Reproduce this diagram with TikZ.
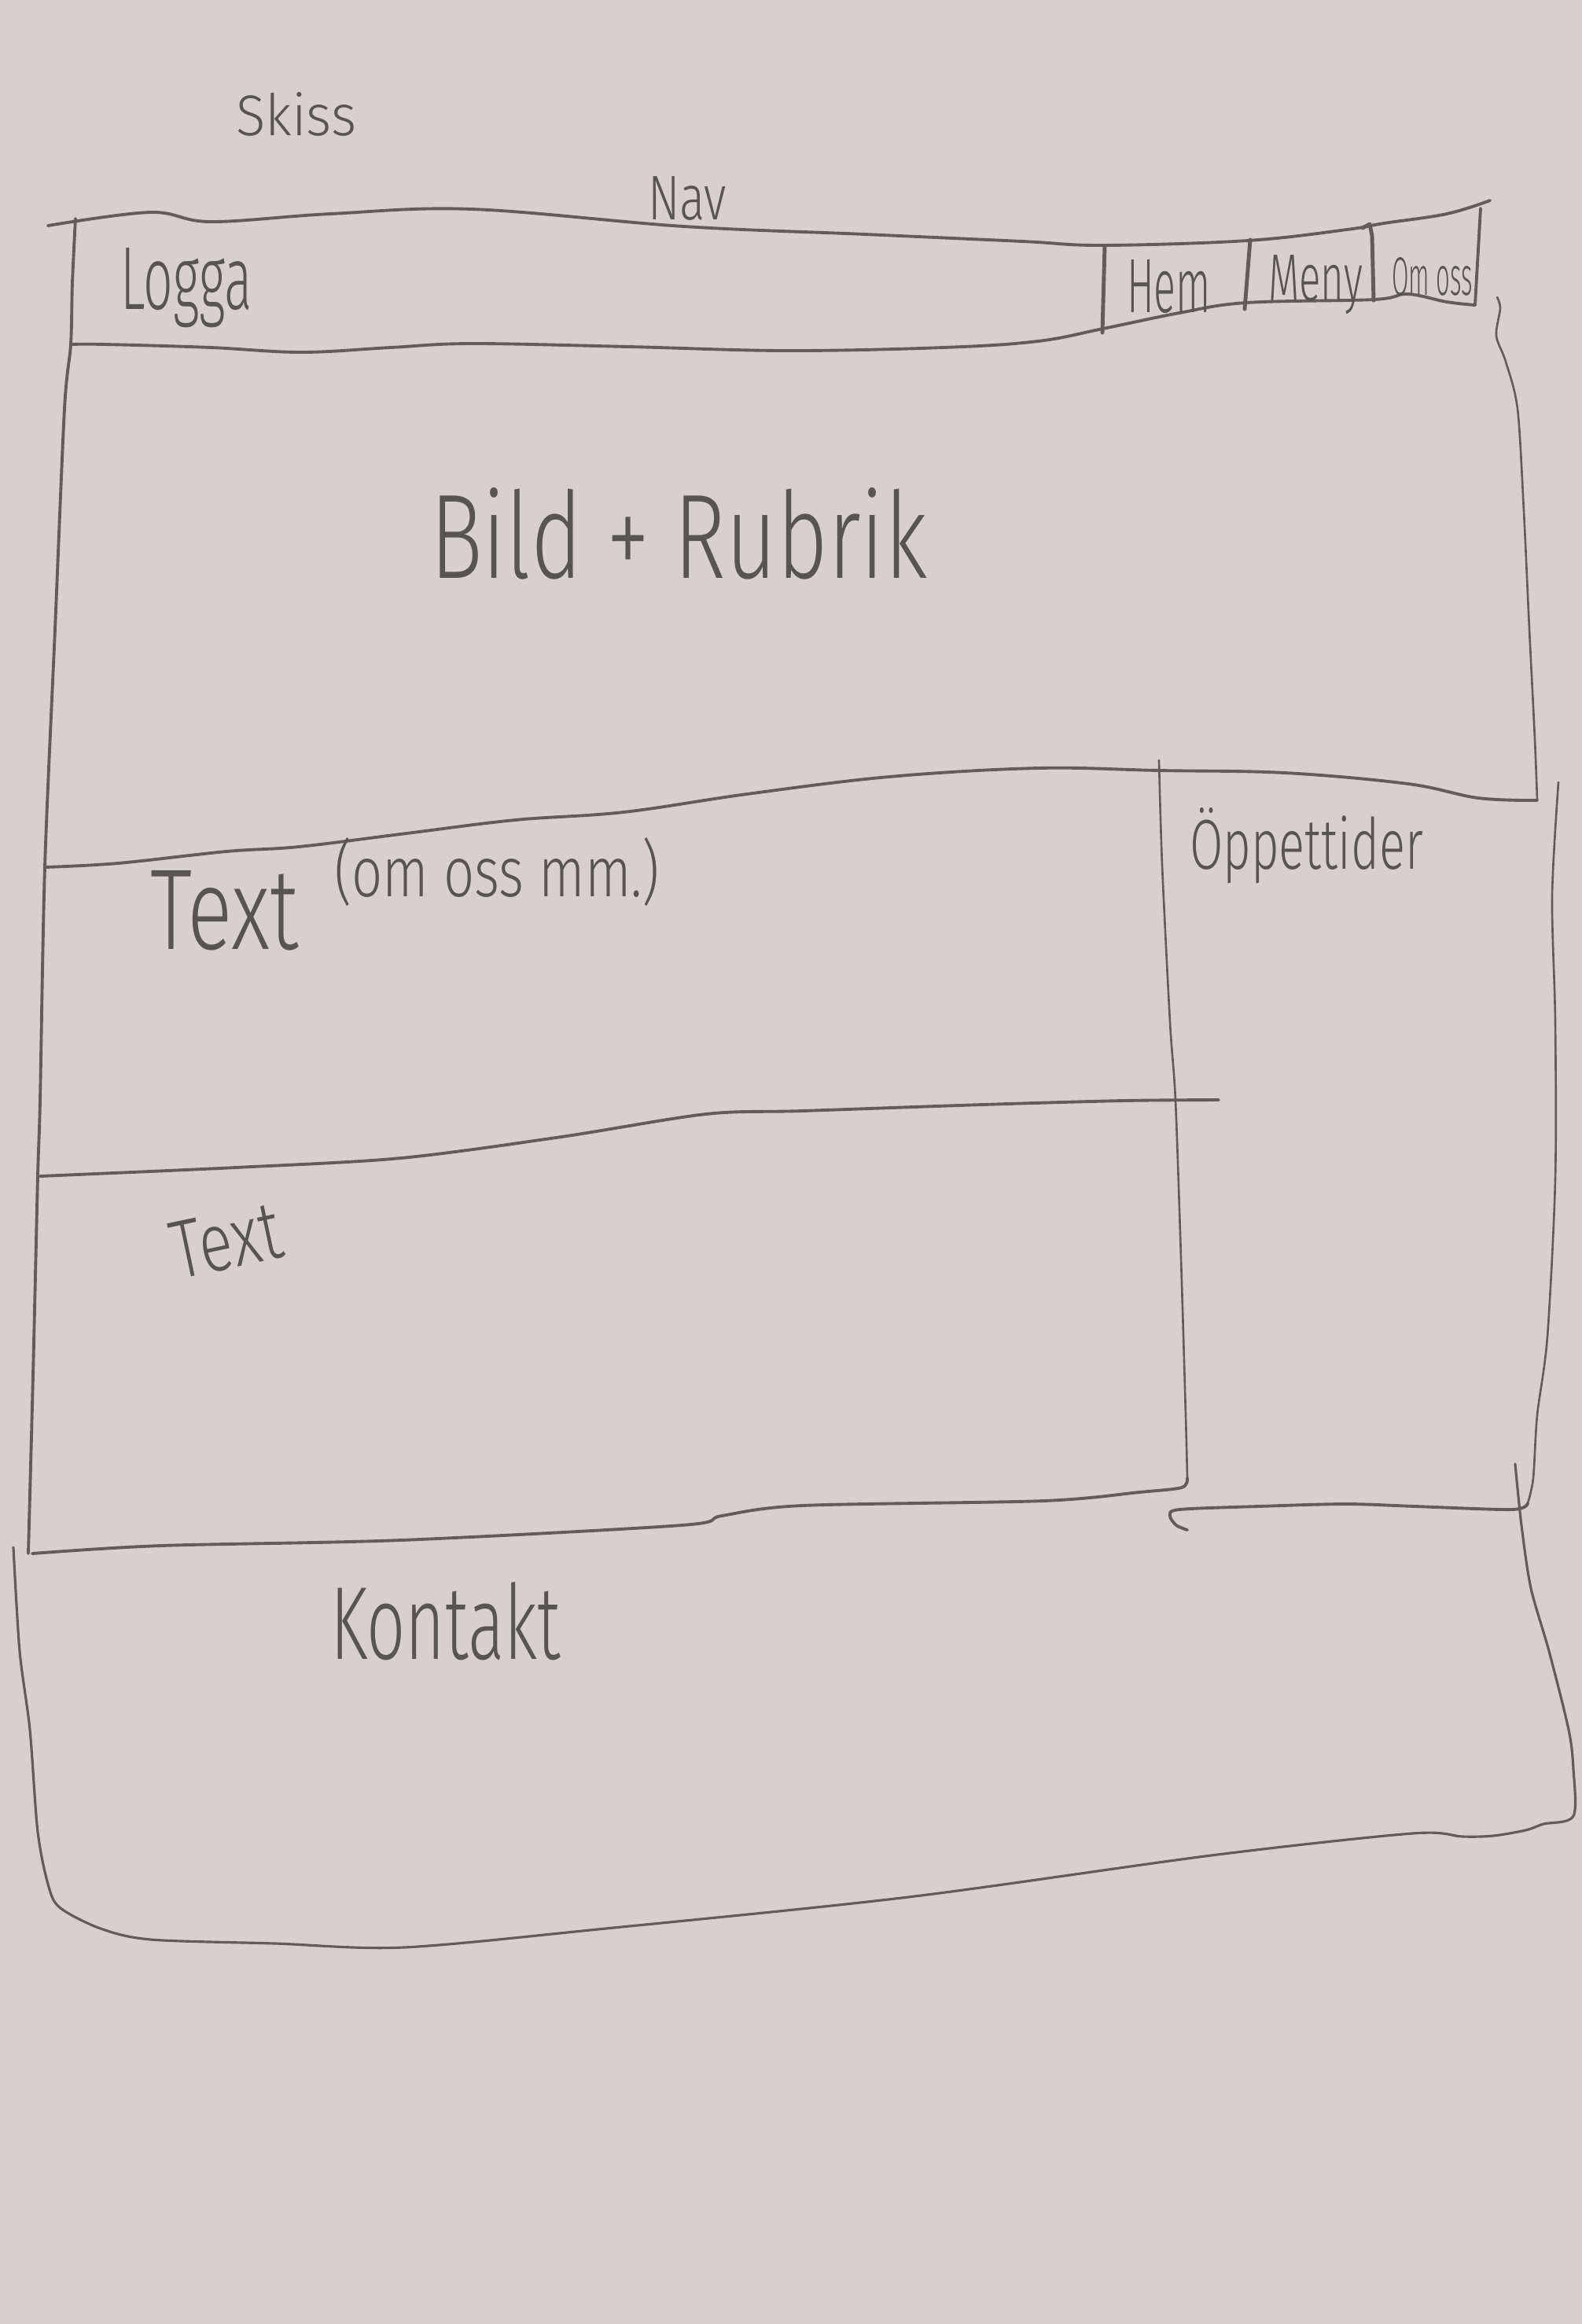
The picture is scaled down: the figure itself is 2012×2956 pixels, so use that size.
\documentclass[tikz,border=0pt]{standalone}
\usepackage{fontspec}
\setmainfont{Fira Sans Light}
\usepackage{graphicx}
\definecolor{paper}{RGB}{214,208,207}
\definecolor{pencil}{RGB}{98,93,91}
\definecolor{graphite}{RGB}{88,84,82}
% handwritten label squeezed into a given width and height
\newcommand\hand[3]{\resizebox{#1}{#2}{#3}}

\begin{document}
\begin{tikzpicture}[x=0.01cm,y=-0.01cm,
  pencil/.style={draw=pencil, line width=1.1pt, line cap=round, line join=round},
  faint/.style={pencil, line width=0.75pt},
  bar/.style={pencil, line width=1.4pt},
  word/.style={inner sep=0pt, outer sep=0pt, text=graphite, anchor=base west}]

\fill[paper] (0,0) rectangle (2012,2956);
\useasboundingbox (0,0) rectangle (2012,2956);

% ---- titles
\node[word] (skiss) at (300,172) {\hand{1.53cm}{0.55cm}{Skiss}};
\node[word] (nav)   at (824,279) {\hand{1.00cm}{0.55cm}{Nav}};

% ---- navigation bar
\draw[pencil] plot[smooth,tension=0.6] coordinates {(61,287)(191,270)(268,282)(420,272)(600,266)(870,288)(1100,298)(1300,307)(1403,312)(1587,306)(1713,292)(1760,284)(1840,272)(1895,255)};
\draw[pencil] plot[smooth,tension=0.6] coordinates {(92,438)(134,438)(268,442)(383,448)(497,442)(600,437)(800,441)(1000,446)(1200,442)(1320,434)(1403,418)(1500,398)(1585,385)(1747,381)(1790,374)(1840,384)(1876,388)};
\draw[pencil] (1883,265) -- (1876,388);
\draw[bar] (1405,313) -- (1402,423);
\draw[bar] (1590,305) -- (1583,393);
\draw[bar] plot coordinates {(1733,290)(1742,285)(1745,300)(1747,382)};

\node[word] (logga) at (153,393)  {\hand{1.68cm}{0.78cm}{Logga}};
\node[word] (hem)   at (1433,397) {\hand{1.07cm}{0.67cm}{Hem}};
\node[word] (meny)  at (1613,382) {\hand{1.20cm}{0.58cm}{Meny}};
\node[word] (omoss) at (1770,375) {\hand{1.03cm}{0.48cm}{Om oss}};

% ---- left edge, running from the nav bar down to the contact area
\draw[pencil] plot[smooth] coordinates {(96,278)(92,360)(90,438)(82,520)(70,800)(57,1103)(51,1400)(48,1496)(42,1750)(36,1976)};

% ---- hero: picture + heading
\draw[faint] plot[smooth] coordinates {(1904,378)(1908,392)(1903,427)(1915,460)(1930,520)(1938,650)(1945,800)(1952,940)(1955,1018)};
\draw[pencil] plot[smooth,tension=0.6] coordinates {(57,1103)(150,1098)(288,1083)(380,1077)(517,1060)(655,1043)(793,1033)(950,1010)(1131,988)(1320,977)(1474,980)(1634,983)(1791,997)(1880,1015)(1955,1018)};
\node[word] (hero) at (547,735) {\hand{6.32cm}{1.15cm}{Bild + Rubrik}};

% ---- first text block
\node[word] (text1) at (191,1207) {\hand{1.89cm}{1.00cm}{Text}};
\node[word] (text1note) at (425,1140) {\hand{4.14cm}{0.75cm}{(om oss mm.)}};

% ---- opening hours column
\draw[faint] plot[smooth] coordinates {(1474,967)(1478,1100)(1488,1300)(1495,1400)(1502,1600)(1508,1800)(1510,1880)};
\draw[faint] plot[smooth] coordinates {(1982,995)(1974,1140)(1978,1300)(1978,1500)(1968,1700)(1955,1800)(1950,1880)(1943,1912)};
\draw[pencil] plot[smooth] coordinates {(1943,1912)(1923,1920)(1800,1916)(1712,1913)(1600,1916)(1500,1920)(1488,1928)(1496,1940)(1510,1946)};
\node[word] (hours) at (1513,1105) {\hand{2.97cm}{0.78cm}{Öppettider}};

% ---- second text block
\draw[pencil] plot[smooth] coordinates {(51,1496)(300,1485)(510,1473)(714,1446)(898,1417)(1020,1413)(1250,1405)(1429,1400)(1550,1399)};
\draw[pencil] plot[smooth] coordinates {(1510,1880)(1503,1892)(1449,1898)(1327,1909)(1020,1915)(918,1928)(867,1940)(510,1959)(204,1966)(41,1976)};
\node[inner sep=0pt, text=graphite, rotate=12] (text2) at (288,1578) {\hand{1.40cm}{0.72cm}{Text}};

% ---- contact footer
\draw[pencil, line width=0.9pt] plot[smooth] coordinates {(17,1968)(25,2100)(38,2200)(48,2330)(62,2400)(77,2427)(128,2453)(192,2467)(350,2472)(513,2477)(770,2453)(1155,2413)(1540,2360)(1796,2332)(1860,2336)(1899,2335)(1940,2328)(1963,2320)(2001,2310)(2001,2250)(1995,2200)(1970,2100)(1947,2020)(1935,1940)(1927,1862)};
\node[word] (contact) at (420,2110) {\hand{2.93cm}{0.98cm}{Kontakt}};

\end{tikzpicture}
\end{document}
